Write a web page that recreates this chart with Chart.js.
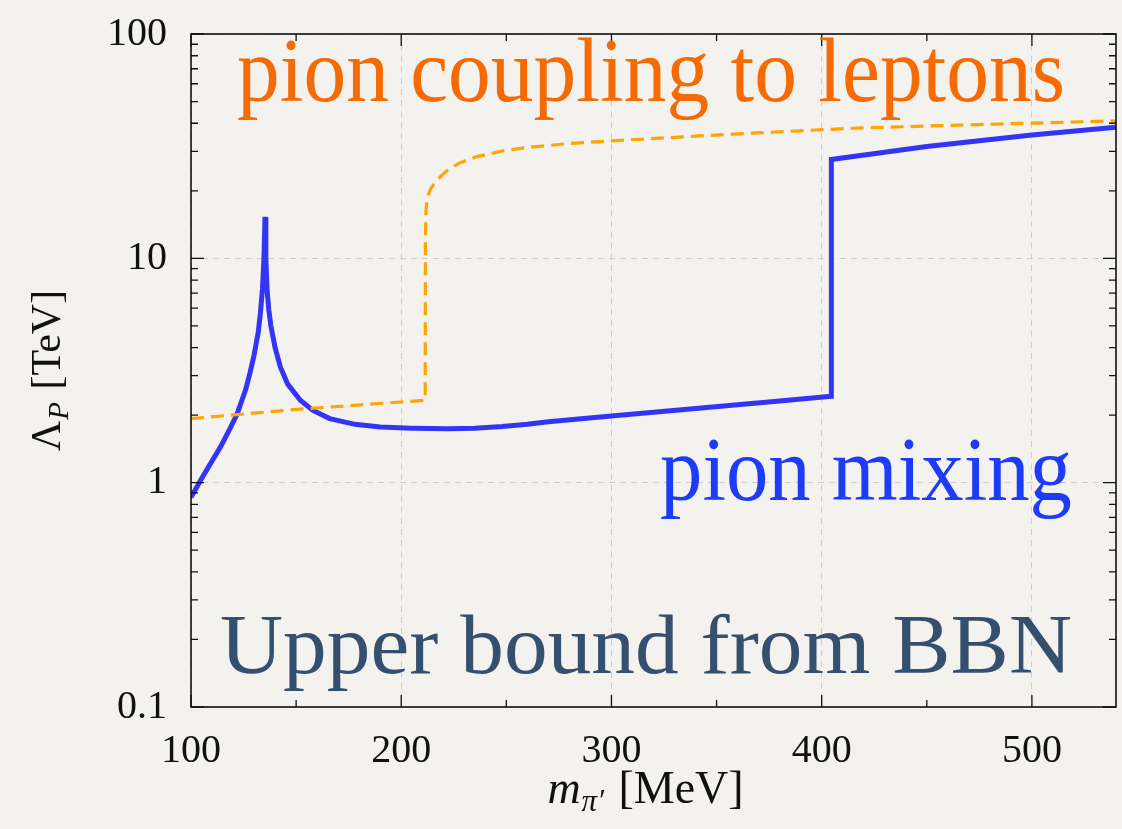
<!DOCTYPE html>
<html>
<head>
<meta charset="utf-8">
<script src="https://cdn.jsdelivr.net/npm/chart.js@4/dist/chart.umd.min.js"></script>
<style>
  html, body { margin: 0; padding: 0; background: #f4f2ee; }
  #wrap { width: 1122px; height: 829px; }
</style>
</head>
<body>
<div id="wrap"><canvas id="bbn"></canvas></div>
<script>
// pion mixing curve (blue, solid)
const mixingX = [100, 105, 110, 114, 118, 122, 126, 128, 130, 132, 133, 134, 134.7, 135.2, 135.6, 136.2, 137, 138, 140, 142.5, 146, 152, 158, 166, 178, 190, 205, 222, 235, 248, 260, 270, 300, 340, 380, 404.5, 404.6, 450, 500, 540];
const mixingY = [0.86, 1.04, 1.25, 1.44, 1.7, 2.03, 2.6, 3.07, 3.7, 4.7, 5.68, 7.3, 10, 15.3, 10, 7.2, 5.9, 5.0, 4.0, 3.28, 2.75, 2.33, 2.1, 1.93, 1.82, 1.77, 1.75, 1.74, 1.75, 1.78, 1.82, 1.87, 1.98, 2.14, 2.31, 2.43, 27.6, 31.5, 35.5, 38.4];

// pion coupling to leptons (orange, dashed)
const leptonX = [100, 150, 211.4, 211.5, 211.8, 212.5, 214, 216, 219, 222, 228, 236, 248, 260, 280, 300, 358, 414, 480, 540];
const leptonY = [1.93, 2.12, 2.33, 12, 16.5, 18.8, 20.4, 21.8, 23.3, 24.7, 26.7, 28.4, 30.1, 31.2, 32.5, 33.4, 35.8, 38.0, 39.6, 41];

// axes
const xTicks = [100, 200, 300, 400, 500];
const xMinorTicks = [150, 250, 350, 450];
const yTicks = [0.1, 1, 10, 100];
const xRange = [100, 540];
const yRange = [0.1, 100];

const toPoints = (xs, ys) => xs.map((x, i) => ({ x: x, y: ys[i] }));

const SERIF = '"Liberation Serif", "DejaVu Serif", serif';

// draw a text at a given font size, stretched to a given width
function fitText(ctx, text, size, x, y, width, align) {
  ctx.save();
  ctx.font = size + 'px ' + SERIF;
  const w = ctx.measureText(text).width;
  const left = align === 'right' ? x - width : x;
  ctx.translate(left, y);
  ctx.scale(width / w, 1);
  ctx.textAlign = 'left';
  ctx.fillText(text, 0, 0);
  ctx.restore();
}

const framePlugin = {
  id: 'frame',
  beforeDraw(chart) {
    const ctx = chart.ctx;
    ctx.save();
    ctx.fillStyle = '#f4f2ee';
    ctx.fillRect(0, 0, chart.width, chart.height);
    ctx.restore();
  },
  afterDraw(chart) {
    const ctx = chart.ctx;
    const a = chart.chartArea;
    const xs = chart.scales.x;
    const ys = chart.scales.y;

    ctx.save();
    ctx.strokeStyle = '#111';
    ctx.lineWidth = 1.6;
    ctx.strokeRect(a.left, a.top, a.right - a.left, a.bottom - a.top);

    ctx.lineWidth = 1.3;
    ctx.beginPath();
    // x ticks, bottom and top
    xTicks.concat(xMinorTicks).forEach(v => {
      const len = xTicks.includes(v) ? 12 : 7;
      const px = xs.getPixelForValue(v);
      ctx.moveTo(px, a.bottom); ctx.lineTo(px, a.bottom - len);
      ctx.moveTo(px, a.top); ctx.lineTo(px, a.top + len);
    });
    // y ticks, left and right
    yTicks.forEach(d => {
      const py = ys.getPixelForValue(d);
      ctx.moveTo(a.left, py); ctx.lineTo(a.left + 13, py);
      ctx.moveTo(a.right, py); ctx.lineTo(a.right - 13, py);
      if (d < 100) {
        for (let k = 2; k <= 9; k++) {
          const pm = ys.getPixelForValue(k * d);
          ctx.moveTo(a.left, pm); ctx.lineTo(a.left + 7, pm);
          ctx.moveTo(a.right, pm); ctx.lineTo(a.right - 7, pm);
        }
      }
    });
    ctx.stroke();

    // annotations
    ctx.textBaseline = 'alphabetic';
    ctx.fillStyle = '#f56a05';
    fitText(ctx, 'pion coupling to leptons', 90, 237, 101, 828, 'left');
    ctx.fillStyle = '#1e3cf6';
    fitText(ctx, 'pion mixing', 90, 1072, 500, 412, 'right');
    ctx.fillStyle = '#35506f';
    fitText(ctx, 'Upper bound from BBN', 84, 1072, 673, 852, 'right');

    // x axis title: m_pi' [MeV]
    ctx.fillStyle = '#111';
    ctx.textAlign = 'left';
    const cx = (a.left + a.right) / 2 - 8;
    const by = 803;
    ctx.font = 'italic 46px ' + SERIF;
    const wm = ctx.measureText('m').width;
    ctx.font = 'italic 31px ' + SERIF;
    const wsub = ctx.measureText('π′').width;
    ctx.font = '46px ' + SERIF;
    const wu = ctx.measureText(' [MeV]').width;
    let x0 = cx - (wm + wsub + 4 + wu) / 2;
    ctx.font = 'italic 46px ' + SERIF;
    ctx.fillText('m', x0, by);
    ctx.font = 'italic 31px ' + SERIF;
    ctx.fillText('π′', x0 + wm + 1, by + 8);
    ctx.font = '46px ' + SERIF;
    ctx.fillText(' [MeV]', x0 + wm + wsub + 4, by);

    // y axis title: Lambda_P [TeV]
    ctx.translate(60, (a.top + a.bottom) / 2);
    ctx.rotate(-Math.PI / 2);
    ctx.font = '42px ' + SERIF;
    const wl = ctx.measureText('Λ').width;
    ctx.font = 'italic 29px ' + SERIF;
    const wp = ctx.measureText('P').width;
    ctx.font = '42px ' + SERIF;
    const wt = ctx.measureText(' [TeV]').width;
    x0 = -(wl + wp + 3 + wt) / 2;
    ctx.fillText('Λ', x0, 0);
    ctx.font = 'italic 29px ' + SERIF;
    ctx.fillText('P', x0 + wl + 1, 8);
    ctx.font = '42px ' + SERIF;
    ctx.fillText(' [TeV]', x0 + wl + wp + 3, 0);
    ctx.restore();
  }
};

const chart = new Chart(document.getElementById('bbn'), {
  type: 'scatter',
  data: {
    datasets: [{
      label: 'pion coupling to leptons',
      data: toPoints(leptonX, leptonY),
      showLine: true,
      borderColor: '#ffa400',
      borderWidth: 3.2,
      borderDash: [13, 7],
      pointRadius: 0,
      tension: 0
    }, {
      label: 'pion mixing',
      data: toPoints(mixingX, mixingY),
      showLine: true,
      borderColor: '#3434f4',
      borderWidth: 5,
      pointRadius: 0,
      tension: 0
    }]
  },
  options: {
    responsive: true,
    maintainAspectRatio: false,
    animation: false,
    layout: { padding: { top: 34, right: 6, left: 0, bottom: 0 } },
    plugins: {
      legend: { display: false },
      tooltip: { enabled: false }
    },
    scales: {
      x: {
        type: 'linear',
        min: xRange[0],
        max: xRange[1],
        afterBuildTicks: s => { s.ticks = xTicks.map(v => ({ value: v })); },
        afterFit: s => { s.height = 122; s.paddingLeft = 0; s.paddingRight = 0; },
        grid: { color: '#cfcdc9', lineWidth: 1, drawTicks: false },
        border: { display: false, dash: [6, 5] },
        ticks: { color: '#111', padding: 20, font: { family: SERIF, size: 40 }, maxRotation: 0 }
      },
      y: {
        type: 'logarithmic',
        min: yRange[0],
        max: yRange[1],
        afterBuildTicks: s => { s.ticks = yTicks.map(v => ({ value: v })); },
        afterFit: s => { s.width = 191; s.paddingTop = 0; s.paddingBottom = 0; },
        grid: { color: '#cfcdc9', lineWidth: 1, drawTicks: false },
        border: { display: false, dash: [6, 5] },
        ticks: {
          color: '#111', padding: 24, font: { family: SERIF, size: 40 },
          callback: v => String(v)
        }
      }
    }
  },
  plugins: [framePlugin]
});
</script>
</body>
</html>
